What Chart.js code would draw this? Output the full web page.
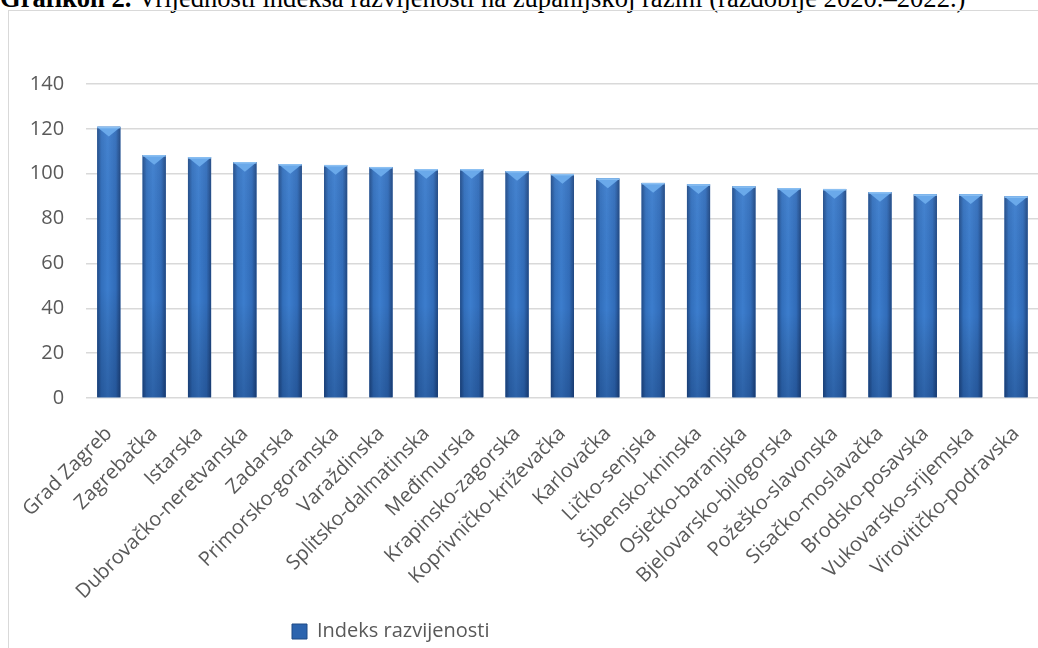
<!DOCTYPE html>
<html lang="hr">
<head>
<meta charset="UTF-8">
<title>Grafikon 2</title>
<style>
  html, body { margin: 0; padding: 0; width: 1038px; height: 648px; overflow: hidden; background: #fff; }
  #title { position: absolute; left: 0; top: -15px; white-space: nowrap; font-family: "Liberation Serif", "Times New Roman", serif; font-size: 26.6px; line-height: 27px; color: #000; }
  #frame { position: absolute; left: 8px; top: 10px; width: 1200px; height: 800px; border: 1px solid #d9d9d9; }
  #wrap { position: absolute; left: 0; top: 0; width: 1040px; height: 637px; }
</style>
</head>
<body>
<div id="title"><b>Grafikon 2.</b> Vrijednosti indeksa razvijenosti na županijskoj razini (razdoblje 2020.–2022.)</div>
<div id="frame">
  <div id="wrap"><canvas id="myChart"></canvas></div>
</div>

<script src="https://cdn.jsdelivr.net/npm/chart.js/dist/chart.umd.min.js"></script>
<script>
const zupanije = ['Grad Zagreb', 'Zagrebačka', 'Istarska', 'Dubrovačko-neretvanska', 'Zadarska',
  'Primorsko-goranska', 'Varaždinska', 'Splitsko-dalmatinska', 'Međimurska', 'Krapinsko-zagorska',
  'Koprivničko-križevačka', 'Karlovačka', 'Ličko-senjska', 'Šibensko-kninska', 'Osječko-baranjska',
  'Bjelovarsko-bilogorska', 'Požeško-slavonska', 'Sisačko-moslavačka', 'Brodsko-posavska',
  'Vukovarsko-srijemska', 'Virovitičko-podravska'];
const indeks = [120.9, 108.3, 107.4, 105.2, 104.3, 103.9, 103.0, 102.1, 102.1, 101.2,
  99.9, 97.9, 95.9, 95.3, 94.4, 93.6, 93.2, 91.8, 90.8, 90.8, 89.9];
const yTicks = [0, 20, 40, 60, 80, 100, 120, 140];

const textColor = '#595959';
const font = { family: '"Open Sans", sans-serif', size: 20 };

// excel-style bevelled bars, painted over the bar elements
const bevel = {
  id: 'bevel',
  afterDatasetsDraw(chart) {
    const ctx = chart.ctx;
    ctx.save();
    chart.getDatasetMeta(0).data.forEach(bar => {
      const { x, y, base, width } = bar.getProps(['x', 'y', 'base', 'width'], true);
      const l = x - width / 2, r = x + width / 2;
      const g = ctx.createLinearGradient(l, 0, r, 0);
      g.addColorStop(0, '#204a86');
      g.addColorStop(0.18, '#326fbc');
      g.addColorStop(0.45, '#3c7dcd');
      g.addColorStop(0.8, '#316cb9');
      g.addColorStop(1, '#1f4680');
      ctx.fillStyle = g;
      ctx.fillRect(l, y, width, base - y);
      const v = ctx.createLinearGradient(0, y, 0, base);
      v.addColorStop(0, 'rgba(255,255,255,0.05)');
      v.addColorStop(0.6, 'rgba(0,0,0,0)');
      v.addColorStop(1, 'rgba(0,20,60,0.25)');
      ctx.fillStyle = v;
      ctx.fillRect(l, y, width, base - y);
      // light top edge with triangle
      ctx.fillStyle = '#6aa9ea';
      ctx.beginPath();
      ctx.moveTo(l, y);
      ctx.lineTo(r, y);
      ctx.lineTo(r - 2, y + 2);
      ctx.lineTo(x, y + width * 0.42);
      ctx.lineTo(l + 2, y + 2);
      ctx.closePath();
      ctx.fill();
      ctx.fillStyle = '#8cc0f2';
      ctx.fillRect(l, y, width, 1.5);
    });
    ctx.restore();
  },
  afterLayout(chart) {
    // legend sits left of centre in the original, and a little lower
    const lg = chart.legend;
    lg.left = 273;
    lg.top += 3.5;
    lg.bottom += 3.5;
  }
};

const config = {
  type: 'bar',
  data: {
    labels: zupanije,
    datasets: [{
      label: 'Indeks razvijenosti',
      data: indeks,
      backgroundColor: '#2f68b3',
      borderWidth: 0,
      barPercentage: 0.51,
      categoryPercentage: 1
    }]
  },
  options: {
    responsive: true,
    maintainAspectRatio: false,
    animation: false,
    layout: { padding: { left: 0, right: 0, top: 73, bottom: 0 } },
    plugins: {
      title: { display: false },
      tooltip: { enabled: false },
      legend: {
        position: 'bottom',
        align: 'start',
        labels: {
          color: textColor,
          font: font,
          boxWidth: 15,
          boxHeight: 15,
          padding: 10,
          generateLabels: (chart) => [{
            text: chart.data.datasets[0].label,
            fillStyle: '#2c64ae',
            strokeStyle: '#1f4a85',
            lineWidth: 1,
            fontColor: textColor,
            datasetIndex: 0
          }]
        }
      }
    },
    scales: {
      x: {
        // invisible tick marks only push the labels down
        grid: { display: true, drawOnChartArea: false, drawTicks: true, tickLength: 8, color: 'rgba(0,0,0,0)' },
        border: { display: false },
        ticks: { color: textColor, font: font, minRotation: 45, maxRotation: 45, autoSkip: false, padding: 16 },
        afterFit: (s) => { s.height = 210; }
      },
      y: {
        min: 0,
        max: 140,
        afterBuildTicks: (s) => { s.ticks = yTicks.map(v => ({ value: v })); },
        grid: { color: '#d9d9d9', lineWidth: 1.5, drawTicks: false },
        border: { display: false },
        ticks: { color: textColor, font: font, padding: 22 },
        afterFit: (s) => { s.width = 75.5; }
      }
    }
  },
  plugins: [bevel]
};

const myChart = new Chart(document.getElementById('myChart'), config);
</script>
</body>
</html>
